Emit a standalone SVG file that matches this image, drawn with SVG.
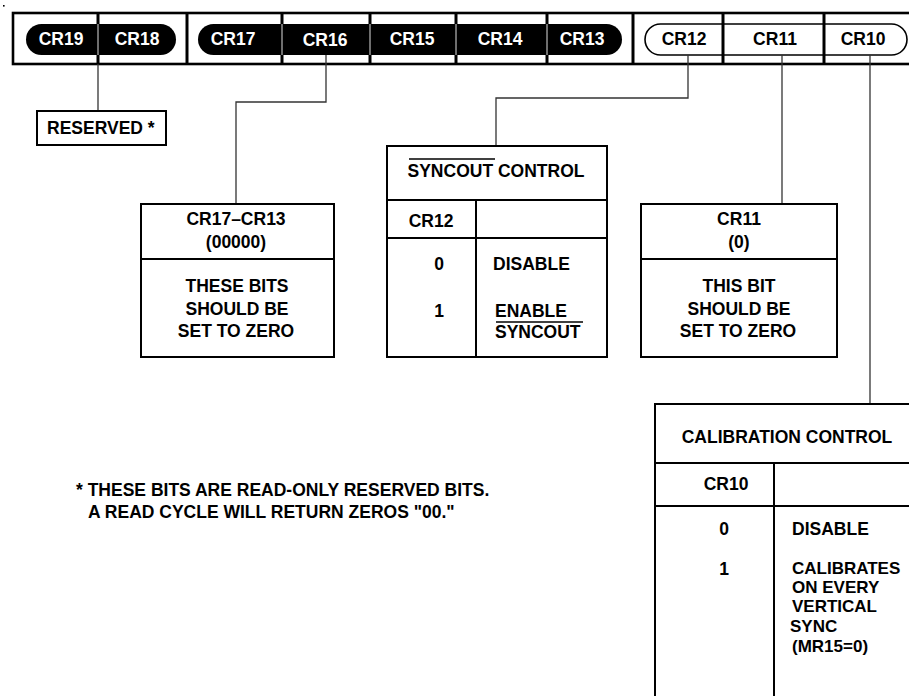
<svg xmlns="http://www.w3.org/2000/svg" width="909" height="696" viewBox="0 0 909 696">
<style>
text{font-family:"Liberation Sans",Arial,sans-serif;font-weight:bold;font-size:17.5px;fill:#000}
.c{text-anchor:middle}
.w{fill:#fff}
.s{font-size:17px}
.box{fill:#fff;stroke:#000;stroke-width:2}
.ln{fill:none;stroke:#000;stroke-width:2}
.conn{fill:none;stroke:#333;stroke-width:1.3}
.frame{fill:#fff;stroke:#000;stroke-width:2.6}
.div{stroke:#000;stroke-width:3}
.thin{stroke:#ddd;stroke-width:1}
</style>
<rect x="3" y="5" width="1.6" height="1.6" fill="#000"/>
<g id="register">
<rect class="frame" x="13" y="13" width="910" height="51"/>
<g class="div">
<line x1="98" y1="13" x2="98" y2="64"/>
<line x1="187" y1="13" x2="187" y2="64"/>
<line x1="282" y1="13" x2="282" y2="64"/>
<line x1="370" y1="13" x2="370" y2="64"/>
<line x1="456" y1="13" x2="456" y2="64"/>
<line x1="547" y1="13" x2="547" y2="64"/>
<line x1="633" y1="13" x2="633" y2="64"/>
</g>
<rect x="26" y="24" width="150" height="31" rx="15.5" fill="#000"/>
<rect x="198" y="24" width="424" height="31" rx="15.5" fill="#000"/>
<rect x="645" y="24" width="262" height="31" rx="15.5" fill="#fff" stroke="#000" stroke-width="1.6"/>
<g class="div">
<line x1="723" y1="13" x2="723" y2="64"/>
<line x1="824" y1="13" x2="824" y2="64"/>
</g>
<g class="thin">
<line x1="98" y1="24" x2="98" y2="55"/>
<line x1="282" y1="24" x2="282" y2="55"/>
<line x1="370" y1="24" x2="370" y2="55"/>
<line x1="456" y1="24" x2="456" y2="55"/>
<line x1="547" y1="24" x2="547" y2="55"/>
</g>
<text class="c w" x="61" y="45">CR19</text>
<text class="c w" x="137" y="45">CR18</text>
<text class="c w" x="233" y="45">CR17</text>
<text class="c w" x="325" y="46">CR16</text>
<text class="c w" x="412" y="45">CR15</text>
<text class="c w" x="500" y="45">CR14</text>
<text class="c w" x="582" y="45">CR13</text>
<text class="c" x="684" y="45">CR12</text>
<text class="c" x="775" y="45">CR11</text>
<text class="c" x="863" y="45">CR10</text>
</g>
<g id="connectors">
<path class="conn" d="M98 64V111"/>
<path class="conn" d="M326 55V102H236V204"/>
<path class="conn" d="M688 55V98H496V146"/>
<path class="conn" d="M782 55V204"/>
<path class="conn" d="M870 55V404"/>
</g>
<g id="reserved">
<rect class="box" x="37" y="111" width="129" height="34"/>
<text x="47" y="134">RESERVED *</text>
</g>
<g id="cr17-cr13">
<rect class="box" x="141" y="204" width="193" height="153"/>
<line class="ln" x1="141" y1="259" x2="334" y2="259"/>
<text class="c" x="236" y="225">CR17–CR13</text>
<text class="c" x="236" y="248">(00000)</text>
<text class="c" x="237" y="292">THESE BITS</text>
<text class="c" x="237" y="315">SHOULD BE</text>
<text class="c" x="236" y="337">SET TO ZERO</text>
</g>
<g id="syncout">
<rect class="box" x="387" y="146" width="220" height="211"/>
<line class="ln" x1="387" y1="200" x2="607" y2="200"/>
<line class="ln" x1="387" y1="238" x2="607" y2="238"/>
<line class="ln" x1="476" y1="200" x2="476" y2="357"/>
<line x1="409" y1="159" x2="495" y2="159" stroke="#000" stroke-width="1.3"/>
<text class="c" x="496" y="177">SYNCOUT CONTROL</text>
<text class="c" x="431" y="227">CR12</text>
<text class="c" x="439" y="270">0</text>
<text x="493" y="270">DISABLE</text>
<text class="c" x="439" y="317">1</text>
<text x="495" y="317">ENABLE</text>
<line x1="496" y1="322" x2="583" y2="322" stroke="#000" stroke-width="1.3"/>
<text x="495" y="338">SYNCOUT</text>
</g>
<g id="cr11">
<rect class="box" x="641" y="204" width="196" height="153"/>
<line class="ln" x1="641" y1="259" x2="837" y2="259"/>
<text class="c" x="739" y="225">CR11</text>
<text class="c" x="739" y="248">(0)</text>
<text class="c" x="739" y="292">THIS BIT</text>
<text class="c" x="739" y="315">SHOULD BE</text>
<text class="c" x="738" y="337">SET TO ZERO</text>
</g>
<g id="calibration">
<path class="ln" d="M920 404H655V710"/>
<line class="ln" x1="655" y1="463" x2="920" y2="463"/>
<line class="ln" x1="655" y1="506" x2="920" y2="506"/>
<line class="ln" x1="774" y1="463" x2="774" y2="710"/>
<text class="c" x="787" y="443">CALIBRATION CONTROL</text>
<text class="c" x="726" y="490">CR10</text>
<text class="c" x="724" y="535">0</text>
<text x="792" y="535">DISABLE</text>
<text class="c" x="724" y="575">1</text>
<text class="s" x="792" y="574">CALIBRATES</text>
<text class="s" x="792" y="593">ON EVERY</text>
<text class="s" x="792" y="612">VERTICAL</text>
<text class="s" x="790" y="632">SYNC</text>
<text class="s" x="792" y="652">(MR15=0)</text>
</g>
<g id="footnote">
<text x="76" y="496">* THESE BITS ARE READ-ONLY RESERVED BITS.</text>
<text x="88" y="518">A READ CYCLE WILL RETURN ZEROS "00."</text>
</g>
</svg>
